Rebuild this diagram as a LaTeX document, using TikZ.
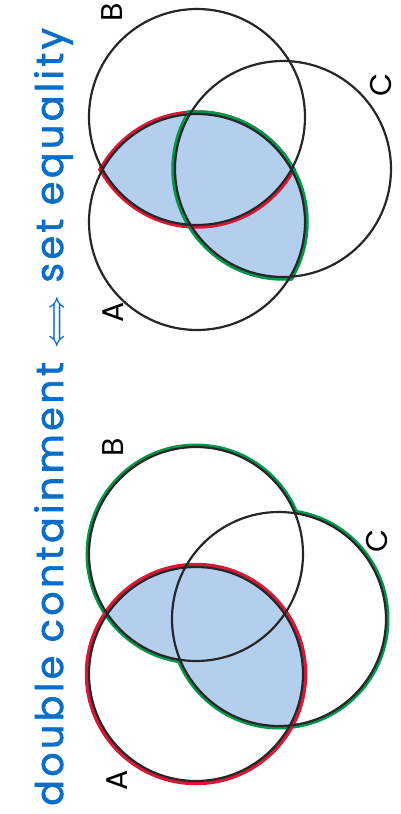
\documentclass[tikz,border=0pt]{standalone}
\usepackage{fontspec}
\setsansfont{Poppins}
\newfontfamily\titlefont{Poppins}[LetterSpace=9, FakeBold=1.6]
\usepackage{tikz}
\usetikzlibrary{positioning}
\definecolor{penblue}{HTML}{0A6EC8}
\definecolor{penred}{HTML}{D71937}
\definecolor{pengreen}{HTML}{00964B}
\definecolor{shadeblue}{HTML}{B4CFEE}

\begin{document}
\begin{tikzpicture}[
    x=1pt,
    y=-1pt,
    font=\sffamily,
    setline/.style={line width=2.2pt, black!85},
    redpen/.style={line width=3.5pt, penred},
    greenpen/.style={line width=3.5pt, pengreen},
    setlabel/.style={font=\sffamily\fontsize{30}{30}\selectfont, rotate=90},
    titletext/.style={font=\titlefont\fontsize{38}{38}\selectfont, text=penblue, rotate=90, inner sep=0pt}
]

\useasboundingbox (0,0) rectangle (401,814);

% =========================
% TOP DIAGRAM: A cap B, A cap C
% =========================
\coordinate (tA) at (197,222);
\coordinate (tB) at (197,117);
\coordinate (tC) at (283,169);

% Shaded A cap (B cup C)
\begin{scope}
    \clip (tA) circle (108pt);
    \fill[shadeblue] (tB) circle (108pt) (tC) circle (108pt);
\end{scope}

% Red lens A cap B
\begin{scope}
    \clip (tB) circle (112pt);
    \draw[redpen] (tA) circle (110pt);
\end{scope}
\begin{scope}
    \clip (tA) circle (112pt);
    \draw[redpen] (tB) circle (110pt);
\end{scope}

% Green lens A cap C
\begin{scope}
    \clip (tC) circle (112pt);
    \draw[greenpen] (tA) circle (110pt);
\end{scope}
\begin{scope}
    \clip (tA) circle (112pt);
    \draw[greenpen] (tC) circle (110pt);
\end{scope}

\draw[setline] (tA) circle (108pt);
\draw[setline] (tB) circle (108pt);
\draw[setline] (tC) circle (108pt);

\node[setlabel] (tlA) at (113,312) {A};
\node[setlabel] (tlB) at (112,12) {B};
\node[setlabel] (tlC) at (381,85) {C};

% =========================
% BOTTOM DIAGRAM: A and B cup C
% =========================
\coordinate (bA) at (196,674);
\coordinate (bB) at (196,554);
\coordinate (bC) at (279,619);

% Green outline of B cup C
\draw[greenpen, line width=7pt] (bB) circle (107pt) (bC) circle (107pt);
\fill[white] (bB) circle (107pt) (bC) circle (107pt);

% Shaded A cap (B cup C)
\begin{scope}
    \clip (bA) circle (107pt);
    \fill[shadeblue] (bB) circle (107pt) (bC) circle (107pt);
\end{scope}

% Red outline of A
\draw[redpen] (bA) circle (109.5pt);

\draw[setline] (bA) circle (107pt);
\draw[setline] (bB) circle (107pt);
\draw[setline] (bC) circle (107pt);

\node[setlabel] (blA) at (117,780) {A};
\node[setlabel] (blB) at (113,447) {B};
\node[setlabel] (blC) at (377,541) {C};

% =========================
% TITLE
% =========================
\node[titletext, anchor=base west] (title) at (63,806)
{double containment {\boldmath$\Longleftrightarrow$} set equality};

\end{tikzpicture}
\end{document}
